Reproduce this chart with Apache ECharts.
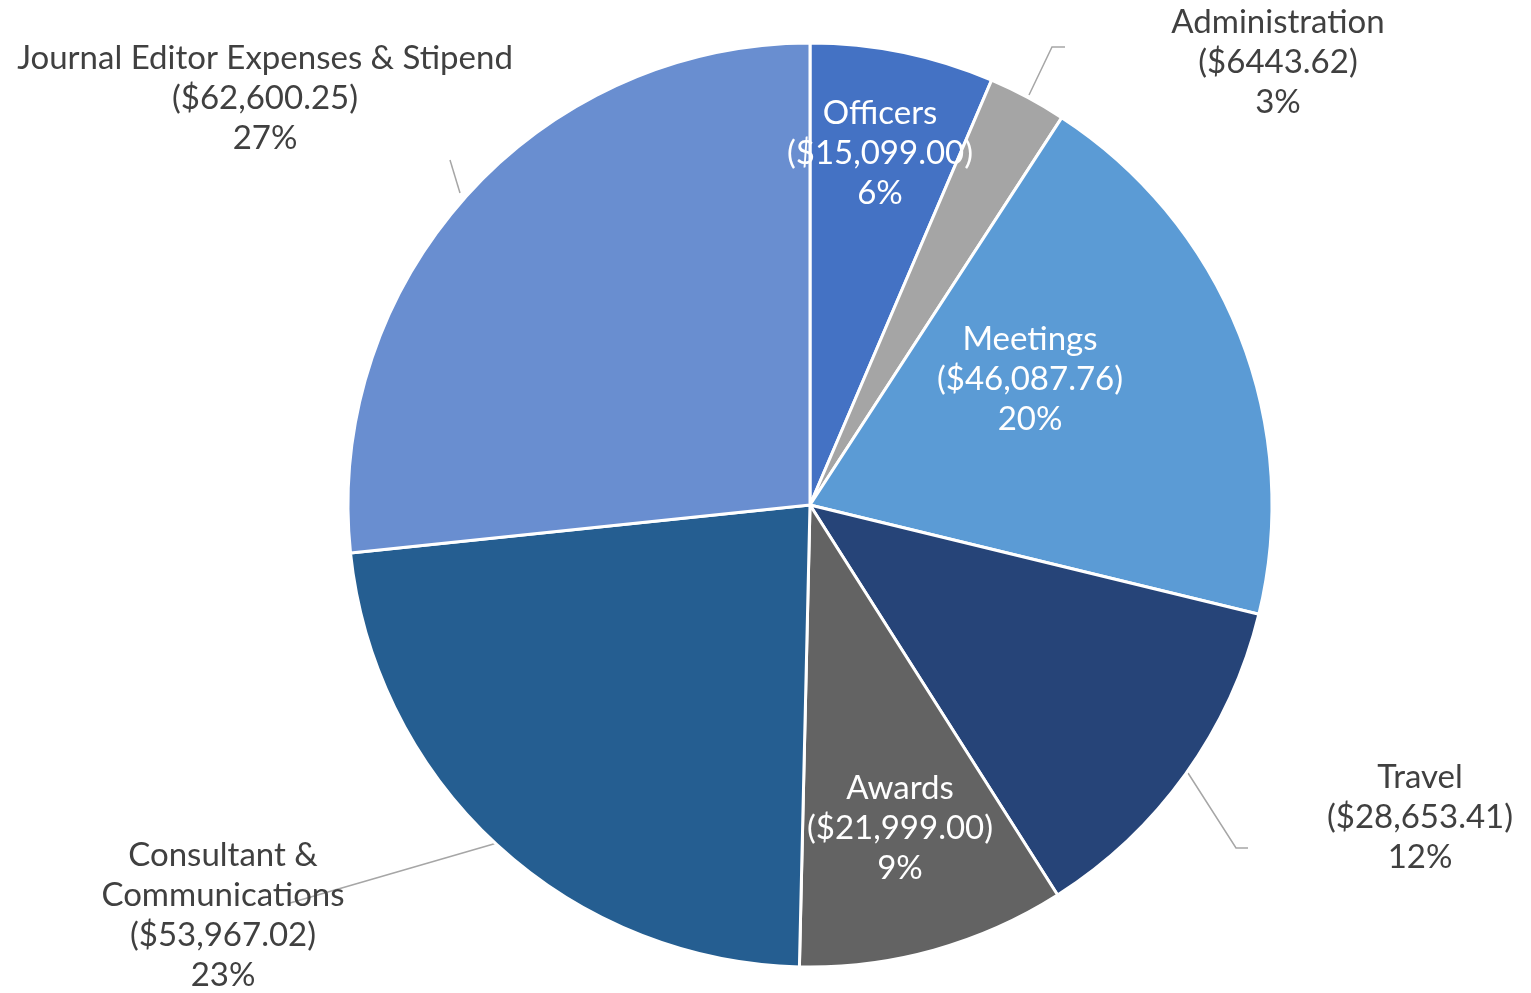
<!DOCTYPE html>
<html>
<head>
<meta charset="utf-8">
<script src="https://cdn.jsdelivr.net/npm/echarts@6/dist/echarts.min.js"></script>
<style>
  html, body { margin: 0; padding: 0; background: #fff; }
  #chart { width: 1531px; height: 993px; }
</style>
</head>
<body>
<div id="chart"></div>
<script>
// 类别与金额（顺时针，从12点方向开始）
const categories = ['Officers', 'Administration', 'Meetings', 'Travel', 'Awards', 'Consultant &\nCommunications', 'Journal Editor Expenses & Stipend']
const amounts = [15099.00, 6443.62, 46087.76, 28653.41, 21999.00, 53967.02, 62600.25]
const colors = ['#4472C4', '#A5A5A5', '#5B9BD5', '#264478', '#636363', '#255E91', '#698ED0']
const insideLabel = [true, false, true, false, true, false, false]

// 标签位置（文字中心）与引导线
const labelPos = [
  [880, 153], [1278, 62], [1030, 379], [1420, 817], [900, 828], [223, 915], [265, 98]
]
const leaderLines = [
  null,
  [[1029, 95], [1052, 47], [1065, 47]],
  null,
  [[1188, 773], [1236, 848], [1248, 848]],
  null,
  [[497, 843], [290, 903]],
  [[460, 193], [450, 160]]
]

function fmtMoney (v) {
  const opts = { minimumFractionDigits: 2, maximumFractionDigits: 2, useGrouping: v >= 10000 }
  return '$' + v.toLocaleString('en-US', opts)
}

const seriesData = categories.map((name, i) => ({
  name,
  value: amounts[i],
  itemStyle: { color: colors[i] },
  label: {
    position: insideLabel[i] ? 'inside' : 'outside',
    color: insideLabel[i] ? '#FFFFFF' : '#404040'
  },
  labelLine: { show: !insideLabel[i] }
}))

const option = {
  animation: false,
  series: [{
    type: 'pie',
    center: [810, 505],
    radius: [0, 462],
    startAngle: 90,
    clockwise: true,
    percentPrecision: 0,
    avoidLabelOverlap: false,
    itemStyle: {
      borderColor: '#FFFFFF',
      borderWidth: 3
    },
    label: {
      fontFamily: 'Lato',
      fontSize: 33,
      lineHeight: 40,
      align: 'center',
      formatter: p => `${p.name}\n(${fmtMoney(p.value)})\n${p.percent}%`
    },
    labelLine: {
      lineStyle: { color: '#A6A6A6', width: 1.5 }
    },
    labelLayout (params) {
      const i = params.dataIndex
      const out = {
        x: labelPos[i][0],
        y: labelPos[i][1],
        align: 'center',
        verticalAlign: 'middle'
      }
      if (leaderLines[i]) out.labelLinePoints = leaderLines[i]
      return out
    },
    data: seriesData
  }]
}

const chart = echarts.init(document.getElementById('chart'))
chart.setOption(option, true)
</script>
</body>
</html>
